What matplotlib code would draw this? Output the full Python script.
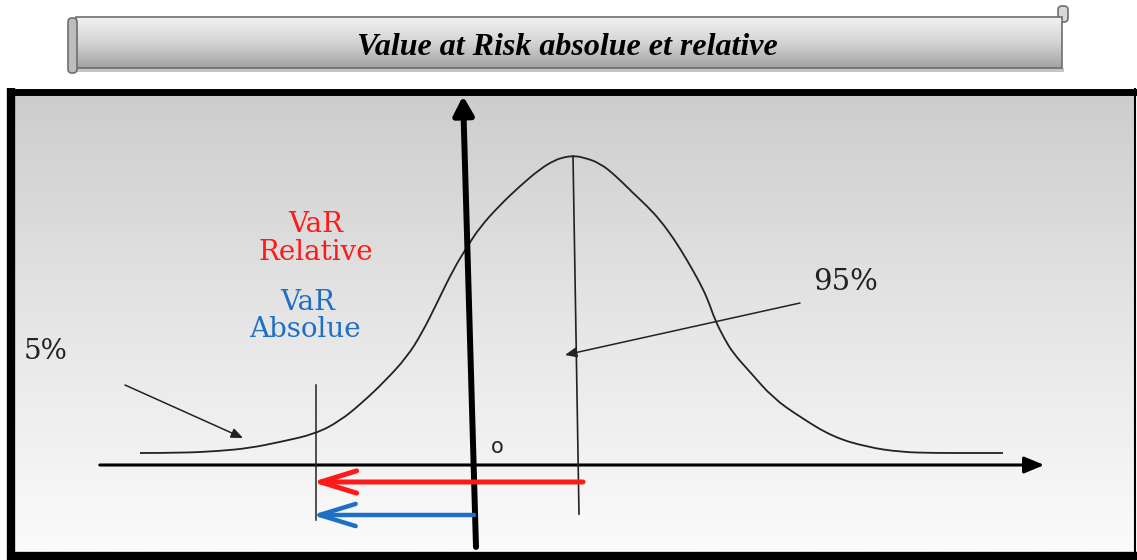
import numpy as np
import matplotlib.pyplot as plt
from matplotlib.colors import LinearSegmentedColormap
from matplotlib.patches import FancyArrowPatch, FancyBboxPatch, PathPatch
from matplotlib.path import Path

# bell curve (pixel coordinates, y downward)
curve_x = [140, 180, 220, 250, 280, 315, 340, 363, 385, 407, 422, 437, 453, 467,
           480, 500, 520, 540, 555, 565, 573, 582, 600, 617, 633, 647, 660, 674,
           687, 700, 708, 715, 724, 733, 750, 773, 800, 833, 867, 900, 933, 970, 1003]
curve_y = [453, 453, 451, 448, 442, 434, 421, 402, 381, 357, 333, 303, 270, 247,
           227, 205, 186, 169, 160, 157, 156, 157, 163, 177, 193, 206, 220, 239,
           260, 283, 300, 320, 338, 353, 372, 398, 417, 437, 447, 452, 453, 453, 453]

title = "Value at Risk absolue et relative"
var_cut = 316      # VaR quantile position
origin_x = 474     # where the vertical axis meets the x axis
mean_x = 579       # foot of the line under the peak
x_axis_y = 465

red = "#ff1a1a"
blue = "#1f6fc4"

fig = plt.figure(figsize=(11.37, 5.6), dpi=100)
ax = fig.add_axes([0, 0, 1, 1])

# --- title banner (scroll) ---
banner_cmap = LinearSegmentedColormap.from_list("ban", ["#f2f2f2", "#d4d4d4", "#a2a2a2"])
ax.add_patch(FancyBboxPatch((74, 68), 990, 4, boxstyle="square,pad=0",
                            fc="#c4c4c4", ec="none"))
body = FancyBboxPatch((76, 17), 986, 51, boxstyle="square,pad=0",
                      fc="none", ec="#6e6e6e", lw=1.2, zorder=3)
ax.add_patch(body)
im = ax.imshow(np.linspace(0, 1, 100).reshape(-1, 1), cmap=banner_cmap,
               extent=[76, 1062, 68, 17], aspect="auto", zorder=2)
im.set_clip_path(body)
ax.add_patch(FancyBboxPatch((68, 18), 9, 55, boxstyle="round,pad=0,rounding_size=4",
                            fc="#bdbdbd", ec="#6e6e6e", lw=1.2, zorder=4))
ax.add_patch(FancyBboxPatch((1058, 6), 10, 16, boxstyle="round,pad=0,rounding_size=4",
                            fc="#d8d8d8", ec="#6e6e6e", lw=1.2, zorder=1))
ax.text(567, 55, title, ha="center", va="baseline", fontsize=23,
        family="Liberation Serif", weight="bold", style="italic", zorder=5)

# --- main panel with gradient background ---
panel_cmap = LinearSegmentedColormap.from_list("pan", ["#cdcdcd", "#e6e6e6", "#fbfbfb"])
ax.imshow(np.linspace(0, 1, 256).reshape(-1, 1), cmap=panel_cmap,
          extent=[15, 1134, 552, 95], aspect="auto", zorder=0)
ax.plot([11, 11], [88, 560], color="black", lw=6, solid_capstyle="butt")
ax.plot([7, 1137], [91.5, 91.5], color="black", lw=5, solid_capstyle="butt")
ax.plot([7, 1137], [556, 556], color="black", lw=6, solid_capstyle="butt")
ax.plot([1134.5, 1134.5], [88, 560], color="black", lw=1.5, solid_capstyle="butt")

# axes of the diagram
ax.add_patch(FancyArrowPatch((97, x_axis_y), (1047, x_axis_y),
                             arrowstyle="-|>,head_length=12,head_width=5",
                             color="black", lw=2.2, mutation_scale=1, zorder=3))
ax.add_patch(FancyArrowPatch((476, 547), (463, 96),
                             arrowstyle="-|>,head_length=11,head_width=6",
                             color="black", lw=4.3, mutation_scale=1, zorder=4,
                             shrinkA=0, shrinkB=0))

# distribution, drawn as a smooth quadratic path through the traced points
pts = np.column_stack([curve_x, curve_y]).astype(float)
verts = [pts[0]]
codes = [Path.MOVETO]
for i in range(1, len(pts) - 1):
    verts += [pts[i], (pts[i] + pts[i + 1]) / 2]
    codes += [Path.CURVE3, Path.CURVE3]
verts.append(pts[-1])
codes.append(Path.LINETO)
ax.add_patch(PathPatch(Path(verts, codes), fc="none", ec="#222222", lw=1.3, zorder=3))

# mean line and VaR cut line
ax.plot([573, mean_x], [156, 514], color="#222222", lw=1.2, zorder=3)
ax.plot([var_cut, var_cut], [385, 520], color="#222222", lw=1.1, zorder=3)

# VaR arrows
ax.add_patch(FancyArrowPatch((583, 482), (var_cut - 4, 482),
                             arrowstyle="->,head_length=26,head_width=8",
                             color=red, lw=3.6, mutation_scale=1, zorder=5,
                             shrinkA=0, shrinkB=0, capstyle="round", joinstyle="round"))
ax.add_patch(FancyArrowPatch((origin_x, 515), (var_cut - 4, 515),
                             arrowstyle="->,head_length=26,head_width=8",
                             color=blue, lw=3.2, mutation_scale=1, zorder=5,
                             shrinkA=0, shrinkB=0, capstyle="round", joinstyle="round"))

# pointer arrows for the percentages
ax.add_patch(FancyArrowPatch((125, 385), (243, 438),
                             arrowstyle="-|>,head_length=7,head_width=3",
                             color="#222222", lw=1.1, mutation_scale=1, zorder=3,
                             shrinkA=0, shrinkB=0))
ax.add_patch(FancyArrowPatch((800, 303), (565, 355),
                             arrowstyle="-|>,head_length=7,head_width=3",
                             color="#222222", lw=1.1, mutation_scale=1, zorder=3,
                             shrinkA=0, shrinkB=0))

# labels
serif = "DejaVu Serif"
ax.text(316, 232, "VaR", color=red, ha="center", va="baseline", fontsize=20, family=serif)
ax.text(316, 260, "Relative", color=red, ha="center", va="baseline", fontsize=20, family=serif)
ax.text(308, 310, "VaR", color=blue, ha="center", va="baseline", fontsize=20, family=serif)
ax.text(305, 337, "Absolue", color=blue, ha="center", va="baseline", fontsize=20, family=serif)
ax.text(24, 359, "5%", color="#222222", ha="left", va="baseline", fontsize=20, family=serif)
ax.text(813, 290, "95%", color="#222222", ha="left", va="baseline", fontsize=21, family=serif)
ax.text(497, 453, "o", color="#222222", ha="center", va="baseline", fontsize=15,
        family="DejaVu Sans")

ax.set_xlim(0, 1137)
ax.set_ylim(560, 0)
ax.axis("off")
fig.savefig("out.png", dpi=100, facecolor="white")
